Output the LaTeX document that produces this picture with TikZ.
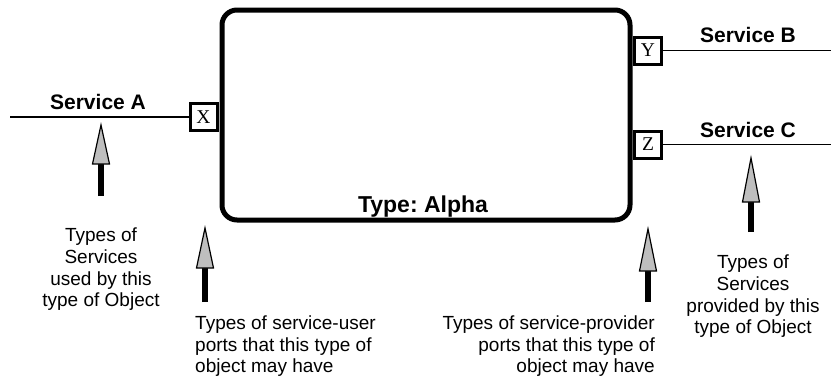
\documentclass[tikz,border=0pt]{standalone}
\usepackage{fontspec}
\setmainfont{Liberation Sans}
\newfontfamily\portfont{Liberation Serif}
\definecolor{headgray}{RGB}{190,190,190}
\frenchspacing
\begin{document}
\begin{tikzpicture}[x=1pt,y=-1pt,
  mainbox/.style={draw,line width=5pt,rounded corners=15pt,minimum width=408pt,minimum height=210pt,inner sep=0pt},
  portbox/.style={draw,line width=3pt,fill=white,minimum size=27pt,inner sep=0pt,font=\portfont\fontsize{19.5}{19.5}\selectfont},
  svcline/.style={line width=1.6pt},
  svclabel/.style={font=\bfseries\fontsize{21}{21}\selectfont,anchor=base,inner sep=0pt},
  note/.style={font=\fontsize{19}{21.6}\selectfont,inner sep=0pt},
  shaft/.style={line width=6pt},
  head/.style={draw,line width=1.2pt,fill=headgray,line join=miter}
]
\useasboundingbox (0,0) rectangle (831,381);

% main object type box
\node[mainbox] (alpha) at (426,115) {};
\node[font=\bfseries\fontsize{23}{23}\selectfont,anchor=base,inner sep=0pt] (alphalabel) at (423,212) {Type: Alpha};

% ports
\node[portbox] (X) at (203.5,117) {X};
\node[portbox] (Y) at (648,50.5) {Y};
\node[portbox] (Z) at (648,144.5) {Z};

% service lines
\coordinate (aend) at (10,117);
\coordinate (bend) at (831,50.5);
\coordinate (cend) at (831,144.5);
\draw[svcline] (X.west) -- (aend);
\draw[svcline] (Y.east) -- (bend);
\draw[svcline] (Z.east) -- (cend);

\node[svclabel] (sA) at (98,109) {Service A};
\node[svclabel] (sB) at (748,42) {Service B};
\node[svclabel] (sC) at (748,137) {Service C};

% fat arrows
\foreach \n/\x/\t/\b/\e in {a1/101/125/164/196, a2/205/228/268/302, a3/648/229/271/302, a4/751/158/202/232}{
  \coordinate (\n tip) at (\x,\t);
  \coordinate (\n base) at (\x,\b);
  \coordinate (\n end) at (\x,\e);
  \draw[shaft] (\n end) -- ([yshift=1pt]\n base);
  \draw[head] (\n tip) -- ([xshift=-8.5pt]\n base) -- ([xshift=8.5pt]\n base) -- cycle;
}

% notes
\node[note,align=center,anchor=north] (n1) at (101,228) {Types of\\Services\\used by this\\type of Object};
\node[note,align=left,anchor=north west] (n2) at (195,315.5) {Types of service-user\\ports that this type of\\object may have};
\node[note,align=right,anchor=north east] (n3) at (655,315.5) {Types of service-provider\\ports that this type of\\object may have};
\node[note,align=center,anchor=north] (n4) at (753,255) {Types of\\Services\\provided by this\\type of Object};
\end{tikzpicture}
\end{document}
